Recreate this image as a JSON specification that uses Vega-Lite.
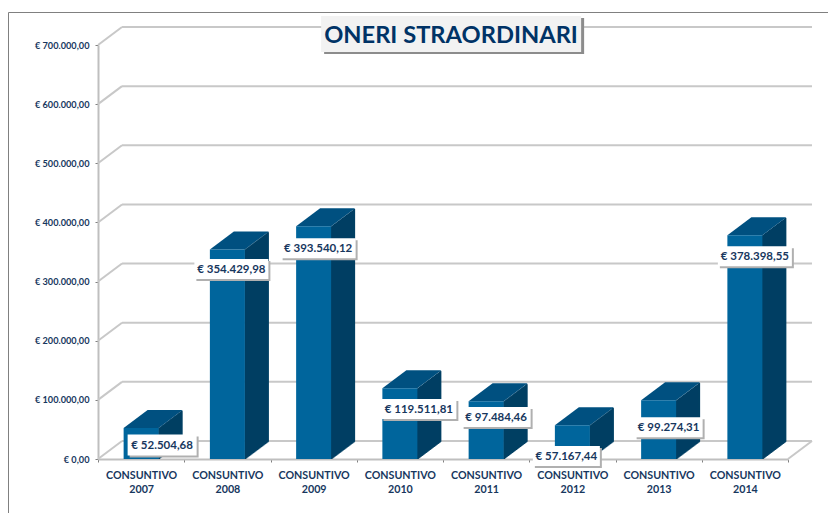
{"$schema":"https://vega.github.io/schema/vega-lite/v6.json","width":820,"height":501,"autosize":{"type":"none"},"padding":{"left":8,"top":12,"right":0,"bottom":0},"background":"white","view":{"stroke":"#808080","strokeWidth":1},
"title":{"text":"ONERI STRAORDINARI","font":"Lato","fontSize":23.7,"fontWeight":"bold","color":"#003366","anchor":"middle","frame":"group","dx":33,"dy":48,"baseline":"middle","offset":0},
"data":{"name":"bars","values":[{"cat":"CONSUNTIVO 2007","value":52504.68,"label":"€ 52.504,68"},{"cat":"CONSUNTIVO 2008","value":354429.98,"label":"€ 354.429,98"},{"cat":"CONSUNTIVO 2009","value":393540.12,"label":"€ 393.540,12"},{"cat":"CONSUNTIVO 2010","value":119511.81,"label":"€ 119.511,81"},{"cat":"CONSUNTIVO 2011","value":97484.46,"label":"€ 97.484,46"},{"cat":"CONSUNTIVO 2012","value":57167.44,"label":"€ 57.167,44"},{"cat":"CONSUNTIVO 2013","value":99274.31,"label":"€ 99.274,31"},{"cat":"CONSUNTIVO 2014","value":378398.55,"label":"€ 378.398,55"}]},
"encoding":{"x":{"field":"cat","type":"nominal","sort":null,"title":null,"scale":{"domain":["CONSUNTIVO 2007","CONSUNTIVO 2008","CONSUNTIVO 2009","CONSUNTIVO 2010","CONSUNTIVO 2011","CONSUNTIVO 2012","CONSUNTIVO 2013","CONSUNTIVO 2014"],"range":[90,780],"paddingInner":0,"paddingOuter":0},"axis":{"orient":"bottom","offset":-54,"labelAngle":0,"labelExpr":"split(datum.label,' ')","labelFont":"Lato","labelFontWeight":"bold","labelFontSize":10.7,"labelColor":"#17375e","labelLineHeight":14,"labelPadding":8,"domainColor":"#bfbfbf","domainWidth":2,"tickColor":"#808080","tickSize":3,"tickBand":"extent","grid":false}},
"y":{"field":"value","type":"quantitative","title":null,"scale":{"domain":[0,700000],"range":[447,33],"nice":false},"axis":{"orient":"left","offset":-90,"values":[0,100000,200000,300000,400000,500000,600000,700000],"labelExpr":"'€ '+replace(format(datum.value,',.0f'),/,/g,'.')+',00'","labelFont":"Lato","labelFontWeight":"bold","labelFontSize":9.2,"labelColor":"#17375e","labelPadding":6,"domainColor":"#bfbfbf","domainWidth":2,"tickColor":"#808080","tickSize":3,"grid":false}}},
"layer":[
{"data":{"name":"grid","values":[{"value":0},{"value":100000},{"value":200000},{"value":300000},{"value":400000},{"value":500000},{"value":600000},{"value":700000}]},"layer":[
{"mark":{"type":"rule","color":"#c8c8c8","strokeWidth":2,"xOffset":-19.1,"x2Offset":67.1,"yOffset":-18,"y2Offset":-18},"encoding":{"x":{"datum":"CONSUNTIVO 2007"},"x2":{"datum":"CONSUNTIVO 2014"}}},
{"mark":{"type":"point","shape":"M0 0L24 -18","size":4,"filled":false,"color":"#c8c8c8","strokeWidth":2,"opacity":1,"xOffset":-43.1},"encoding":{"x":{"datum":"CONSUNTIVO 2007"}}},
{"transform":[{"filter":"datum.value===0"}],"mark":{"type":"point","shape":"M0 0L24 -18","size":4,"filled":false,"color":"#c8c8c8","strokeWidth":2,"opacity":1,"xOffset":43.1},"encoding":{"x":{"datum":"CONSUNTIVO 2014"}}}
]},
{"mark":{"type":"rule","color":"#003f63","strokeWidth":2,"xOffset":18,"yOffset":0,"y2Offset":0},"encoding":{"y2":{"datum":0}}},
{"mark":{"type":"rule","color":"#003f63","strokeWidth":2,"xOffset":19,"yOffset":-0.75,"y2Offset":-0.75},"encoding":{"y2":{"datum":0}}},
{"mark":{"type":"rule","color":"#003f63","strokeWidth":2,"xOffset":20,"yOffset":-1.5,"y2Offset":-1.5},"encoding":{"y2":{"datum":0}}},
{"mark":{"type":"rule","color":"#003f63","strokeWidth":2,"xOffset":21,"yOffset":-2.25,"y2Offset":-2.25},"encoding":{"y2":{"datum":0}}},
{"mark":{"type":"rule","color":"#003f63","strokeWidth":2,"xOffset":22,"yOffset":-3,"y2Offset":-3},"encoding":{"y2":{"datum":0}}},
{"mark":{"type":"rule","color":"#003f63","strokeWidth":2,"xOffset":23,"yOffset":-3.75,"y2Offset":-3.75},"encoding":{"y2":{"datum":0}}},
{"mark":{"type":"rule","color":"#003f63","strokeWidth":2,"xOffset":24,"yOffset":-4.5,"y2Offset":-4.5},"encoding":{"y2":{"datum":0}}},
{"mark":{"type":"rule","color":"#003f63","strokeWidth":2,"xOffset":25,"yOffset":-5.25,"y2Offset":-5.25},"encoding":{"y2":{"datum":0}}},
{"mark":{"type":"rule","color":"#003f63","strokeWidth":2,"xOffset":26,"yOffset":-6,"y2Offset":-6},"encoding":{"y2":{"datum":0}}},
{"mark":{"type":"rule","color":"#003f63","strokeWidth":2,"xOffset":27,"yOffset":-6.75,"y2Offset":-6.75},"encoding":{"y2":{"datum":0}}},
{"mark":{"type":"rule","color":"#003f63","strokeWidth":2,"xOffset":28,"yOffset":-7.5,"y2Offset":-7.5},"encoding":{"y2":{"datum":0}}},
{"mark":{"type":"rule","color":"#003f63","strokeWidth":2,"xOffset":29,"yOffset":-8.25,"y2Offset":-8.25},"encoding":{"y2":{"datum":0}}},
{"mark":{"type":"rule","color":"#003f63","strokeWidth":2,"xOffset":30,"yOffset":-9,"y2Offset":-9},"encoding":{"y2":{"datum":0}}},
{"mark":{"type":"rule","color":"#003f63","strokeWidth":2,"xOffset":31,"yOffset":-9.75,"y2Offset":-9.75},"encoding":{"y2":{"datum":0}}},
{"mark":{"type":"rule","color":"#003f63","strokeWidth":2,"xOffset":32,"yOffset":-10.5,"y2Offset":-10.5},"encoding":{"y2":{"datum":0}}},
{"mark":{"type":"rule","color":"#003f63","strokeWidth":2,"xOffset":33,"yOffset":-11.25,"y2Offset":-11.25},"encoding":{"y2":{"datum":0}}},
{"mark":{"type":"rule","color":"#003f63","strokeWidth":2,"xOffset":34,"yOffset":-12,"y2Offset":-12},"encoding":{"y2":{"datum":0}}},
{"mark":{"type":"rule","color":"#003f63","strokeWidth":2,"xOffset":35,"yOffset":-12.75,"y2Offset":-12.75},"encoding":{"y2":{"datum":0}}},
{"mark":{"type":"rule","color":"#003f63","strokeWidth":2,"xOffset":36,"yOffset":-13.5,"y2Offset":-13.5},"encoding":{"y2":{"datum":0}}},
{"mark":{"type":"rule","color":"#003f63","strokeWidth":2,"xOffset":37,"yOffset":-14.25,"y2Offset":-14.25},"encoding":{"y2":{"datum":0}}},
{"mark":{"type":"rule","color":"#003f63","strokeWidth":2,"xOffset":38,"yOffset":-15,"y2Offset":-15},"encoding":{"y2":{"datum":0}}},
{"mark":{"type":"rule","color":"#003f63","strokeWidth":2,"xOffset":39,"yOffset":-15.75,"y2Offset":-15.75},"encoding":{"y2":{"datum":0}}},
{"mark":{"type":"rule","color":"#003f63","strokeWidth":2,"xOffset":40,"yOffset":-16.5,"y2Offset":-16.5},"encoding":{"y2":{"datum":0}}},
{"mark":{"type":"rule","color":"#003f63","strokeWidth":2,"xOffset":40.5,"yOffset":-17.25,"y2Offset":-17.25},"encoding":{"y2":{"datum":0}}},
{"mark":{"type":"point","shape":"M-17.5 0L17.5 0L41.5 -18L6.5 -18Z","size":4,"filled":true,"color":"#005080","opacity":1}},
{"mark":{"type":"bar","width":35,"color":"#00659c"}},
{"transform":[{"filter":"datum.cat==='CONSUNTIVO 2011'"}],"layer":[
{"mark":{"type":"point","shape":"M-130 -18L130 -18L130 18L-130 18Z","size":4,"filled":true,"color":"#8c8c8c","opacity":1,"xOffset":-32,"yOffset":-9},"encoding":{"y":{"datum":700000}}},
{"mark":{"type":"point","shape":"M-130 -18L130 -18L130 18L-130 18Z","size":4,"filled":true,"color":"#f2f2f2","opacity":1,"xOffset":-35,"yOffset":-11},"encoding":{"y":{"datum":700000}}}
]},
{"transform":[{"filter":"datum.cat==='CONSUNTIVO 2007'"}],"layer":[
{"mark":{"type":"point","shape":"M-34.5 -10.5L34.5 -10.5L34.5 10.5L-34.5 10.5Z","size":4,"filled":true,"color":"#b0b0b0","opacity":1,"xOffset":23,"yOffset":19}},
{"mark":{"type":"point","shape":"M-34.5 -10.5L34.5 -10.5L34.5 10.5L-34.5 10.5Z","size":4,"filled":true,"color":"#ffffff","opacity":1,"xOffset":21,"yOffset":17}},
{"mark":{"type":"text","font":"Lato","fontWeight":"bold","fontSize":11.5,"color":"#17375e","xOffset":21,"yOffset":18},"encoding":{"text":{"field":"label"}}}]},
{"transform":[{"filter":"datum.cat==='CONSUNTIVO 2008'"}],"layer":[
{"mark":{"type":"point","shape":"M-37 -10L37 -10L37 10L-37 10Z","size":4,"filled":true,"color":"#b0b0b0","opacity":1,"xOffset":6,"yOffset":21.5}},
{"mark":{"type":"point","shape":"M-37 -10L37 -10L37 10L-37 10Z","size":4,"filled":true,"color":"#ffffff","opacity":1,"xOffset":4,"yOffset":19.5}},
{"mark":{"type":"text","font":"Lato","fontWeight":"bold","fontSize":11.5,"color":"#17375e","xOffset":4,"yOffset":20.5},"encoding":{"text":{"field":"label"}}}]},
{"transform":[{"filter":"datum.cat==='CONSUNTIVO 2009'"}],"layer":[
{"mark":{"type":"point","shape":"M-37.5 -10L37.5 -10L37.5 10L-37.5 10Z","size":4,"filled":true,"color":"#b0b0b0","opacity":1,"xOffset":6.5,"yOffset":24}},
{"mark":{"type":"point","shape":"M-37.5 -10L37.5 -10L37.5 10L-37.5 10Z","size":4,"filled":true,"color":"#ffffff","opacity":1,"xOffset":4.5,"yOffset":22}},
{"mark":{"type":"text","font":"Lato","fontWeight":"bold","fontSize":11.5,"color":"#17375e","xOffset":4.5,"yOffset":23},"encoding":{"text":{"field":"label"}}}]},
{"transform":[{"filter":"datum.cat==='CONSUNTIVO 2010'"}],"layer":[
{"mark":{"type":"point","shape":"M-37.5 -10L37.5 -10L37.5 10L-37.5 10Z","size":4,"filled":true,"color":"#b0b0b0","opacity":1,"xOffset":21,"yOffset":22.7}},
{"mark":{"type":"point","shape":"M-37.5 -10L37.5 -10L37.5 10L-37.5 10Z","size":4,"filled":true,"color":"#ffffff","opacity":1,"xOffset":19,"yOffset":20.7}},
{"mark":{"type":"text","font":"Lato","fontWeight":"bold","fontSize":11.5,"color":"#17375e","xOffset":19,"yOffset":21.7},"encoding":{"text":{"field":"label"}}}]},
{"transform":[{"filter":"datum.cat==='CONSUNTIVO 2011'"}],"layer":[
{"mark":{"type":"point","shape":"M-34.5 -10L34.5 -10L34.5 10L-34.5 10Z","size":4,"filled":true,"color":"#b0b0b0","opacity":1,"xOffset":12,"yOffset":17.7}},
{"mark":{"type":"point","shape":"M-34.5 -10L34.5 -10L34.5 10L-34.5 10Z","size":4,"filled":true,"color":"#ffffff","opacity":1,"xOffset":10,"yOffset":15.7}},
{"mark":{"type":"text","font":"Lato","fontWeight":"bold","fontSize":11.5,"color":"#17375e","xOffset":10,"yOffset":16.7},"encoding":{"text":{"field":"label"}}}]},
{"transform":[{"filter":"datum.cat==='CONSUNTIVO 2012'"}],"layer":[
{"mark":{"type":"point","shape":"M-33.5 -10L33.5 -10L33.5 10L-33.5 10Z","size":4,"filled":true,"color":"#b0b0b0","opacity":1,"xOffset":-4,"yOffset":32.8}},
{"mark":{"type":"point","shape":"M-33.5 -10L33.5 -10L33.5 10L-33.5 10Z","size":4,"filled":true,"color":"#ffffff","opacity":1,"xOffset":-6,"yOffset":30.8}},
{"mark":{"type":"text","font":"Lato","fontWeight":"bold","fontSize":11.5,"color":"#17375e","xOffset":-6,"yOffset":31.8},"encoding":{"text":{"field":"label"}}}]},
{"transform":[{"filter":"datum.cat==='CONSUNTIVO 2013'"}],"layer":[
{"mark":{"type":"point","shape":"M-34 -10L34 -10L34 10L-34 10Z","size":4,"filled":true,"color":"#b0b0b0","opacity":1,"xOffset":12,"yOffset":29}},
{"mark":{"type":"point","shape":"M-34 -10L34 -10L34 10L-34 10Z","size":4,"filled":true,"color":"#ffffff","opacity":1,"xOffset":10,"yOffset":27}},
{"mark":{"type":"text","font":"Lato","fontWeight":"bold","fontSize":11.5,"color":"#17375e","xOffset":10,"yOffset":28},"encoding":{"text":{"field":"label"}}}]},
{"transform":[{"filter":"datum.cat==='CONSUNTIVO 2014'"}],"layer":[
{"mark":{"type":"point","shape":"M-37 -10L37 -10L37 10L-37 10Z","size":4,"filled":true,"color":"#b0b0b0","opacity":1,"xOffset":12,"yOffset":23}},
{"mark":{"type":"point","shape":"M-37 -10L37 -10L37 10L-37 10Z","size":4,"filled":true,"color":"#ffffff","opacity":1,"xOffset":10,"yOffset":21}},
{"mark":{"type":"text","font":"Lato","fontWeight":"bold","fontSize":11.5,"color":"#17375e","xOffset":10,"yOffset":22},"encoding":{"text":{"field":"label"}}}]}
]}
